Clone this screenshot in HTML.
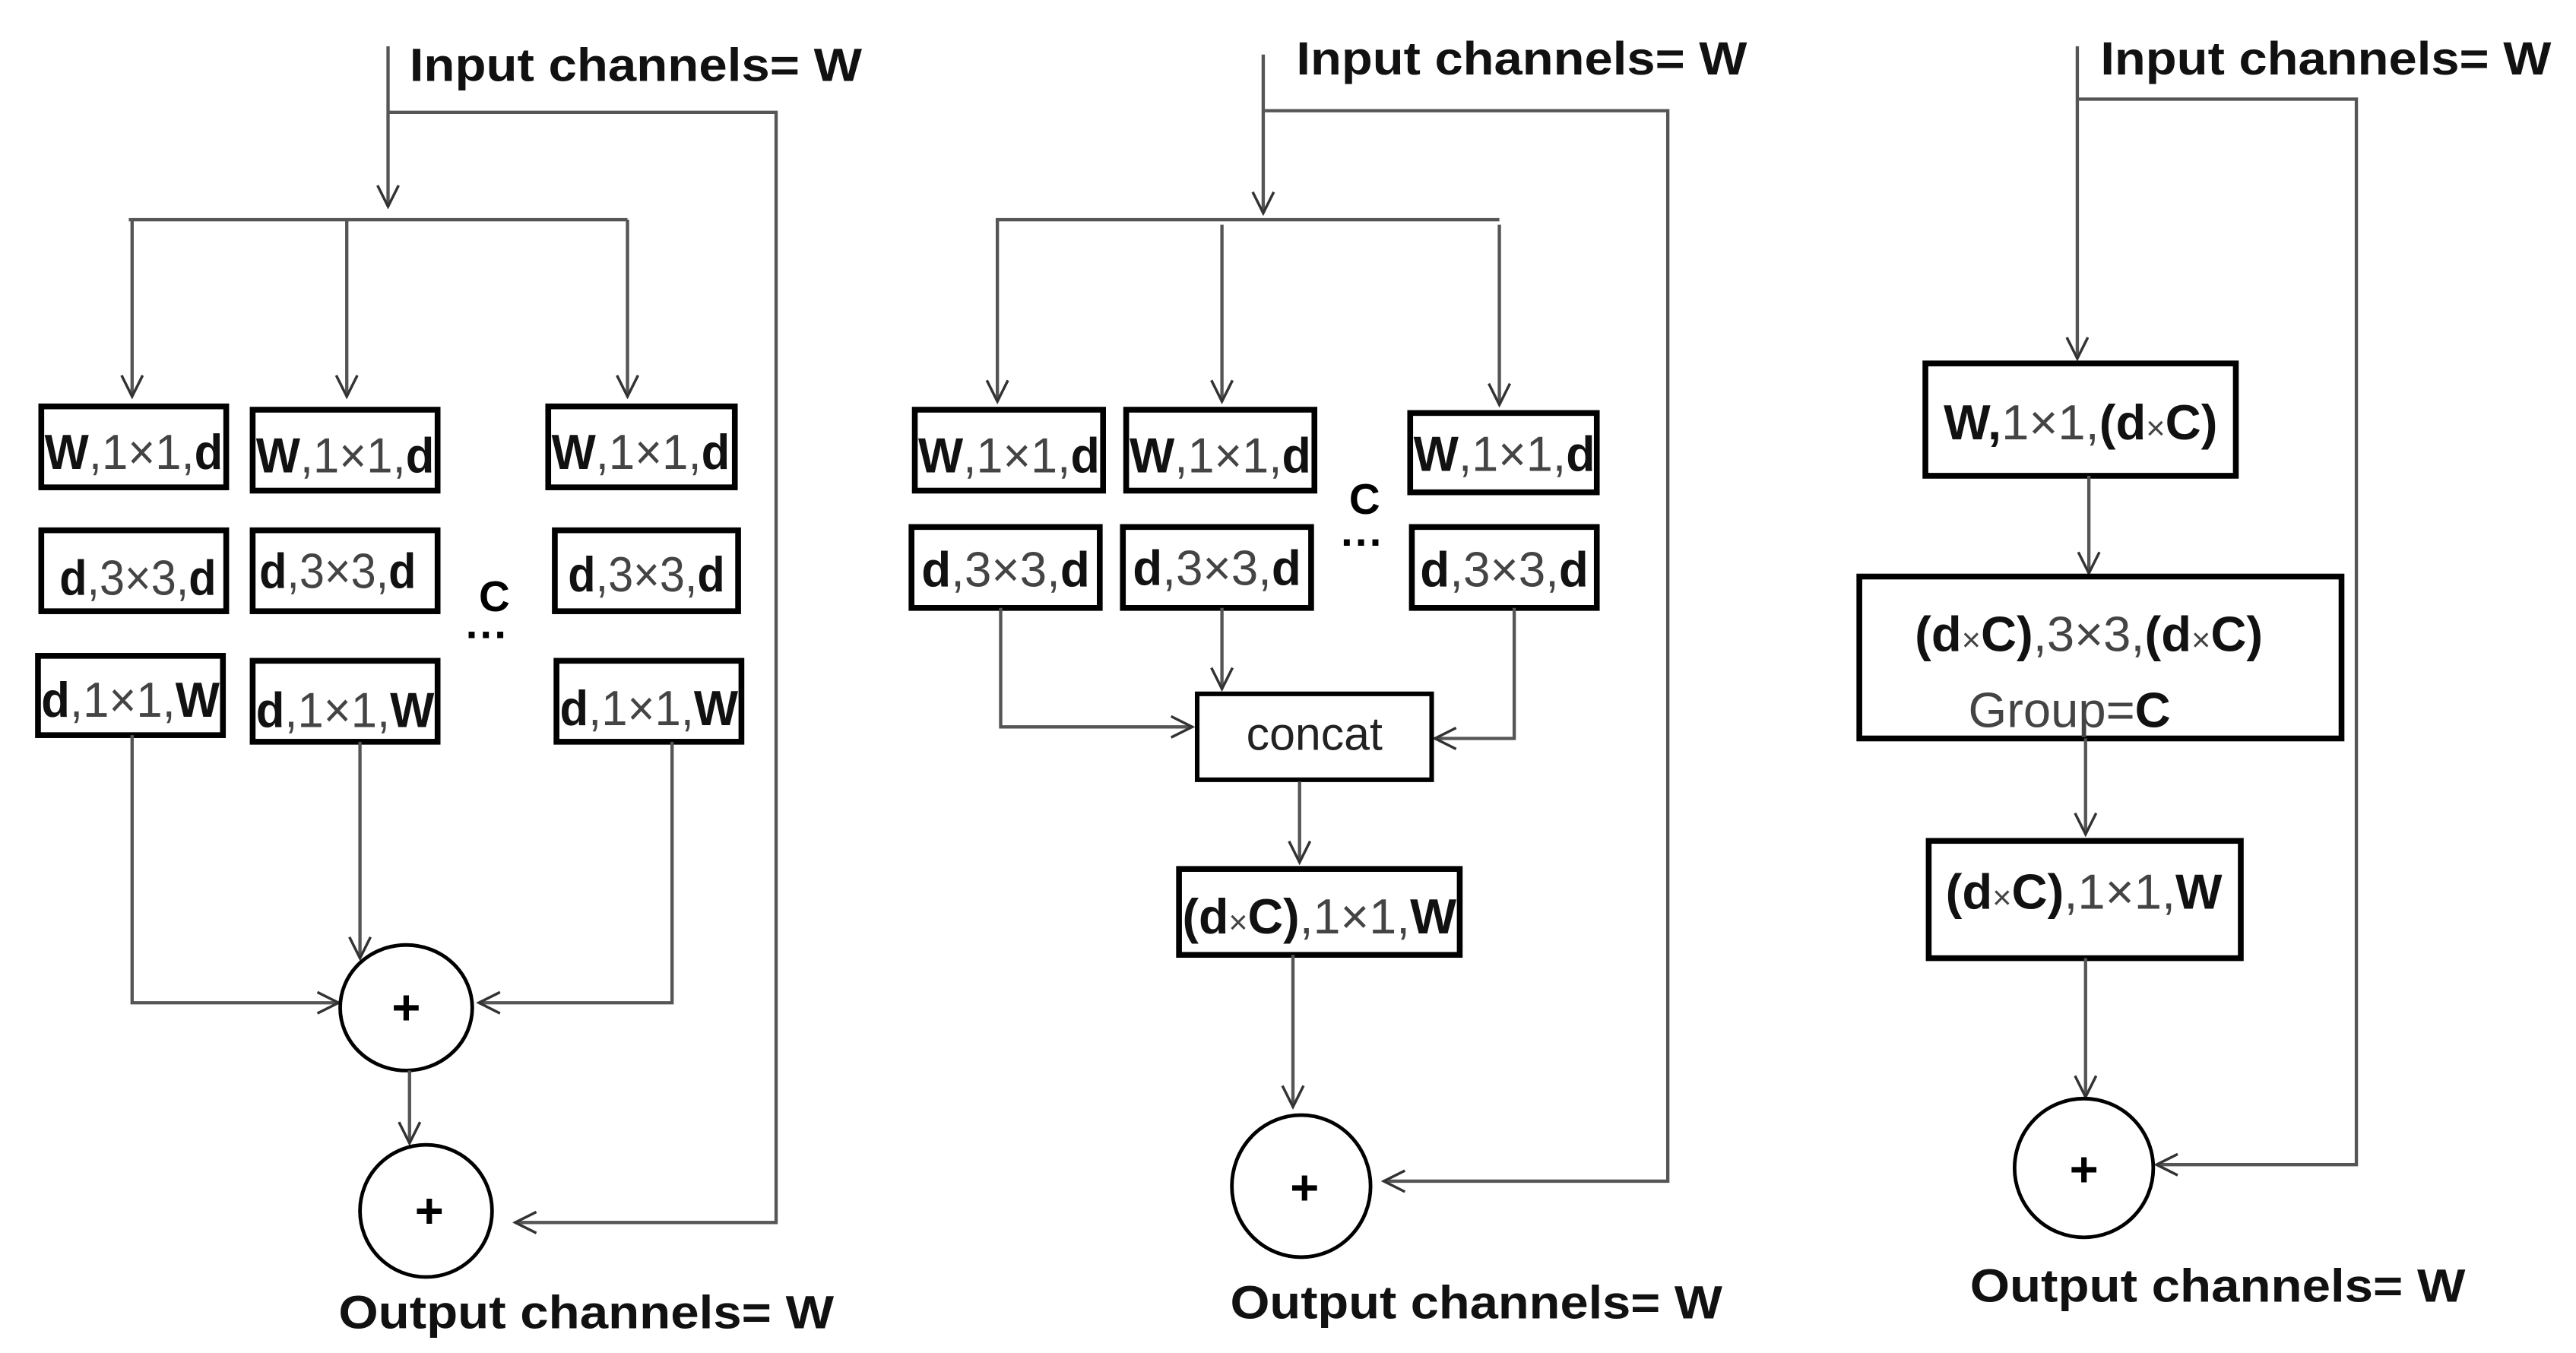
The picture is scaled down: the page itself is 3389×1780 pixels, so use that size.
<!DOCTYPE html>
<html><head><meta charset="utf-8"><style>
html,body{margin:0;padding:0;background:#fff}
svg{display:block}
text{font-family:"Liberation Sans",sans-serif}
.t{font-weight:bold;font-size:28px;fill:#111}
.b{font-size:30px;fill:#111}
.b .n{font-weight:normal;fill:#444}
.b .k{font-weight:bold;fill:#111}
.bx{fill:#fff;stroke:#000;stroke-width:3.5}
.ln{fill:none;stroke:#555;stroke-width:2}
.ci{fill:#fff;stroke:#000;stroke-width:2.2}
.pl{font-weight:bold;font-size:30px;fill:#000}
</style></head><body>
<svg width="3389" height="1780" viewBox="0 0 1560 819" preserveAspectRatio="none" xmlns="http://www.w3.org/2000/svg">
<defs>
<marker id="a" viewBox="0 0 20 20" refX="18" refY="10" markerWidth="16" markerHeight="16" markerUnits="userSpaceOnUse" orient="auto">
<path d="M2 2 L18 10 L2 18" fill="none" stroke="#333" stroke-width="2"/>
</marker>
</defs>

<!-- ========== Panel 1 ========== -->
<text class="t" x="248" y="49" textLength="274" lengthAdjust="spacingAndGlyphs">Input channels= W</text>
<line class="ln" x1="235" y1="28" x2="235" y2="125" marker-end="url(#a)"/>
<polyline class="ln" points="235,68 470,68 470,740 312,740" marker-end="url(#a)"/>
<line class="ln" x1="78" y1="133" x2="380" y2="133"/>
<line class="ln" x1="80" y1="133" x2="80" y2="240" marker-end="url(#a)"/>
<line class="ln" x1="210" y1="133" x2="210" y2="240" marker-end="url(#a)"/>
<line class="ln" x1="380" y1="133" x2="380" y2="240" marker-end="url(#a)"/>

<rect class="bx" x="25" y="246" width="112" height="49"/>
<rect class="bx" x="153" y="248" width="112" height="49"/>
<rect class="bx" x="332" y="246" width="113" height="49"/>
<text class="b" x="27" y="284" textLength="108" lengthAdjust="spacingAndGlyphs"><tspan class="k">W</tspan><tspan class="n">,1×1,</tspan><tspan class="k">d</tspan></text>
<text class="b" x="155" y="286" textLength="108" lengthAdjust="spacingAndGlyphs"><tspan class="k">W</tspan><tspan class="n">,1×1,</tspan><tspan class="k">d</tspan></text>
<text class="b" x="334" y="284" textLength="108" lengthAdjust="spacingAndGlyphs"><tspan class="k">W</tspan><tspan class="n">,1×1,</tspan><tspan class="k">d</tspan></text>

<rect class="bx" x="25" y="321" width="112" height="49"/>
<rect class="bx" x="153" y="321" width="112" height="49"/>
<rect class="bx" x="336" y="321" width="111" height="49"/>
<text class="b" x="36" y="360" textLength="95" lengthAdjust="spacingAndGlyphs"><tspan class="k">d</tspan><tspan class="n">,3×3,</tspan><tspan class="k">d</tspan></text>
<text class="b" x="157" y="356" textLength="95" lengthAdjust="spacingAndGlyphs"><tspan class="k">d</tspan><tspan class="n">,3×3,</tspan><tspan class="k">d</tspan></text>
<text class="b" x="344" y="358" textLength="95" lengthAdjust="spacingAndGlyphs"><tspan class="k">d</tspan><tspan class="n">,3×3,</tspan><tspan class="k">d</tspan></text>
<text class="pl" x="290" y="370" style="font-size:26px">C</text>
<text class="pl" x="282" y="393" style="font-size:26px">···</text>

<rect class="bx" x="23" y="397" width="112" height="48"/>
<rect class="bx" x="153" y="400" width="112" height="49"/>
<rect class="bx" x="337" y="400" width="112" height="49"/>
<text class="b" x="25" y="434" textLength="108" lengthAdjust="spacingAndGlyphs"><tspan class="k">d</tspan><tspan class="n">,1×1,</tspan><tspan class="k">W</tspan></text>
<text class="b" x="155" y="440" textLength="108" lengthAdjust="spacingAndGlyphs"><tspan class="k">d</tspan><tspan class="n">,1×1,</tspan><tspan class="k">W</tspan></text>
<text class="b" x="339" y="439" textLength="108" lengthAdjust="spacingAndGlyphs"><tspan class="k">d</tspan><tspan class="n">,1×1,</tspan><tspan class="k">W</tspan></text>

<polyline class="ln" points="80,445 80,607 205,607" marker-end="url(#a)"/>
<line class="ln" x1="218" y1="449" x2="218" y2="580" marker-end="url(#a)"/>
<polyline class="ln" points="407,449 407,607 290,607" marker-end="url(#a)"/>
<ellipse class="ci" cx="246" cy="610" rx="40" ry="38"/>
<text class="pl" x="246" y="620" text-anchor="middle">+</text>
<line class="ln" x1="248" y1="648" x2="248" y2="692" marker-end="url(#a)"/>
<ellipse class="ci" cx="258" cy="733" rx="40" ry="40"/>
<text class="pl" x="260" y="743" text-anchor="middle">+</text>
<text class="t" x="205" y="804" textLength="300" lengthAdjust="spacingAndGlyphs">Output channels= W</text>

<!-- ========== Panel 2 ========== -->
<text class="t" x="785" y="45" textLength="273" lengthAdjust="spacingAndGlyphs">Input channels= W</text>
<line class="ln" x1="765" y1="33" x2="765" y2="129" marker-end="url(#a)"/>
<polyline class="ln" points="766,67 1010,67 1010,715 838,715" marker-end="url(#a)"/>
<line class="ln" x1="603" y1="133" x2="908" y2="133"/>
<line class="ln" x1="604" y1="133" x2="604" y2="243" marker-end="url(#a)"/>
<line class="ln" x1="740" y1="136" x2="740" y2="243" marker-end="url(#a)"/>
<line class="ln" x1="908" y1="136" x2="908" y2="245" marker-end="url(#a)"/>

<rect class="bx" x="554" y="248" width="114" height="49"/>
<rect class="bx" x="682" y="248" width="114" height="49"/>
<rect class="bx" x="854" y="250" width="113" height="48"/>
<text class="b" x="556" y="286" textLength="110" lengthAdjust="spacingAndGlyphs"><tspan class="k">W</tspan><tspan class="n">,1×1,</tspan><tspan class="k">d</tspan></text>
<text class="b" x="684" y="286" textLength="110" lengthAdjust="spacingAndGlyphs"><tspan class="k">W</tspan><tspan class="n">,1×1,</tspan><tspan class="k">d</tspan></text>
<text class="b" x="856" y="285" textLength="110" lengthAdjust="spacingAndGlyphs"><tspan class="k">W</tspan><tspan class="n">,1×1,</tspan><tspan class="k">d</tspan></text>
<text class="pl" x="817" y="311" style="font-size:26px">C</text>
<text class="pl" x="812" y="337" style="font-size:26px">···</text>

<rect class="bx" x="552" y="319" width="114" height="49"/>
<rect class="bx" x="680" y="319" width="114" height="49"/>
<rect class="bx" x="855" y="319" width="112" height="49"/>
<text class="b" x="558" y="355" textLength="102" lengthAdjust="spacingAndGlyphs"><tspan class="k">d</tspan><tspan class="n">,3×3,</tspan><tspan class="k">d</tspan></text>
<text class="b" x="686" y="354" textLength="102" lengthAdjust="spacingAndGlyphs"><tspan class="k">d</tspan><tspan class="n">,3×3,</tspan><tspan class="k">d</tspan></text>
<text class="b" x="860" y="355" textLength="102" lengthAdjust="spacingAndGlyphs"><tspan class="k">d</tspan><tspan class="n">,3×3,</tspan><tspan class="k">d</tspan></text>

<polyline class="ln" points="606,368 606,440 722,440" marker-end="url(#a)"/>
<line class="ln" x1="740" y1="368" x2="740" y2="417" marker-end="url(#a)"/>
<polyline class="ln" points="917,368 917,447 869,447" marker-end="url(#a)"/>
<rect class="bx" x="725" y="420" width="142" height="52" style="stroke-width:2.8"/>
<text x="796" y="454" text-anchor="middle" style="font-size:28px;fill:#222">concat</text>
<line class="ln" x1="787" y1="473" x2="787" y2="522" marker-end="url(#a)"/>
<rect class="bx" x="714" y="526" width="170" height="52"/>
<text class="b" x="716" y="565" textLength="166" lengthAdjust="spacingAndGlyphs"><tspan class="k">(d</tspan><tspan class="n" style="font-size:20px">×</tspan><tspan class="k">C)</tspan><tspan class="n">,1×1,</tspan><tspan class="k">W</tspan></text>
<line class="ln" x1="783" y1="578" x2="783" y2="670" marker-end="url(#a)"/>
<ellipse class="ci" cx="788" cy="718" rx="42" ry="43"/>
<text class="pl" x="790" y="729" text-anchor="middle">+</text>
<text class="t" x="745" y="798" textLength="298" lengthAdjust="spacingAndGlyphs">Output channels= W</text>

<!-- ========== Panel 3 ========== -->
<text class="t" x="1272" y="45" textLength="273" lengthAdjust="spacingAndGlyphs">Input channels= W</text>
<line class="ln" x1="1258" y1="28" x2="1258" y2="217" marker-end="url(#a)"/>
<polyline class="ln" points="1258,60 1427,60 1427,705 1306,705" marker-end="url(#a)"/>
<rect class="bx" x="1166" y="220" width="188" height="68"/>
<text class="b" x="1260" y="266" text-anchor="middle"><tspan class="k">W,</tspan><tspan class="n">1×1,</tspan><tspan class="k">(d</tspan><tspan class="n" style="font-size:20px">×</tspan><tspan class="k">C)</tspan></text>
<line class="ln" x1="1265" y1="288" x2="1265" y2="347" marker-end="url(#a)"/>
<rect class="bx" x="1126" y="349" width="292" height="98"/>
<text class="b" x="1265" y="394" text-anchor="middle"><tspan class="k">(d</tspan><tspan class="n" style="font-size:20px">×</tspan><tspan class="k">C)</tspan><tspan class="n">,3×3,</tspan><tspan class="k">(d</tspan><tspan class="n" style="font-size:20px">×</tspan><tspan class="k">C)</tspan></text>
<text class="b" x="1192" y="440"><tspan class="n">Group=</tspan><tspan class="k">C</tspan></text>
<line class="ln" x1="1263" y1="447" x2="1263" y2="505" marker-end="url(#a)"/>
<rect class="bx" x="1168" y="509" width="189" height="71"/>
<text class="b" x="1262" y="550" text-anchor="middle"><tspan class="k">(d</tspan><tspan class="n" style="font-size:20px">×</tspan><tspan class="k">C)</tspan><tspan class="n">,1×1,</tspan><tspan class="k">W</tspan></text>
<line class="ln" x1="1263" y1="580" x2="1263" y2="664" marker-end="url(#a)"/>
<ellipse class="ci" cx="1262" cy="707" rx="42" ry="42"/>
<text class="pl" x="1262" y="718" text-anchor="middle">+</text>
<text class="t" x="1193" y="788" textLength="300" lengthAdjust="spacingAndGlyphs">Output channels= W</text>
</svg>
</body></html>
